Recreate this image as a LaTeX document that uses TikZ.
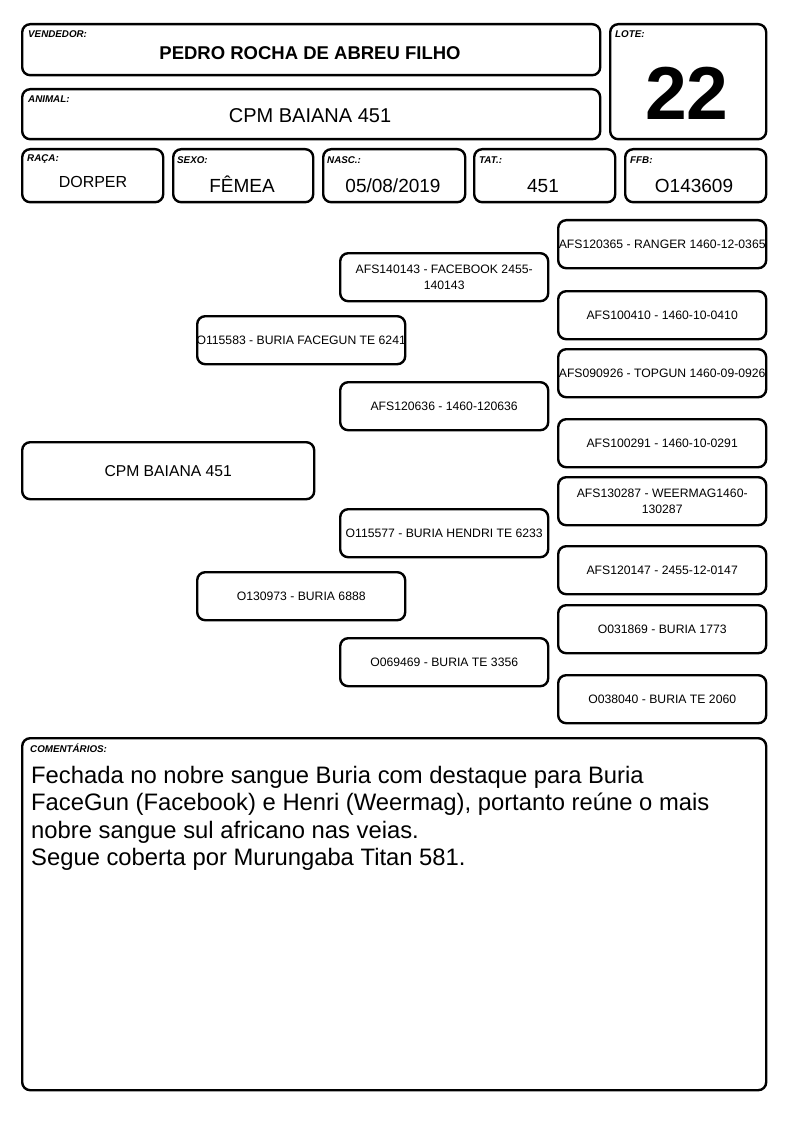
\documentclass[tikz,border=0pt]{standalone}
\usepackage{fontspec}
\setmainfont{Liberation Sans}
\newcommand{\fz}[1]{\fontsize{#1}{#1}\selectfont}
\newcommand{\nowid}[1]{\makebox[0pt][c]{#1}}
\begin{document}
\begin{tikzpicture}[x=1pt,y=-1pt,
  box/.style={draw, line width=2.4pt, rounded corners=8pt, inner sep=0pt, anchor=north west},
  lbl/.style={anchor=base west, inner sep=0pt, font=\fz{9.8}\bfseries\itshape},
  val/.style={anchor=base, inner sep=0pt},
  pbox/.style={box, minimum width=208pt, minimum height=48pt, font=\fontsize{12.2}{16}\selectfont, align=center},
]
\useasboundingbox[fill=white] (0,0) rectangle (794,1123);
% header
\node[box, minimum width=578pt, minimum height=51pt] (vend) at (21,23) {};
\node[lbl] (vendl) at (28,38) {VENDEDOR:};
\node[val, font=\fz{18.5}\bfseries] (vendv) at (310,60) {PEDRO ROCHA DE ABREU FILHO};
\node[box, minimum width=156pt, minimum height=115pt] (lote) at (609,23) {};
\node[lbl] (lotel) at (615,38) {LOTE:};
\node[val, font=\fz{75}\bfseries] (lotev) at (687,120) {22};
\node[box, minimum width=578pt, minimum height=50pt] (anim) at (21,88) {};
\node[lbl] (animl) at (28,103) {ANIMAL:};
\node[val, font=\fz{20}] (animv) at (310,123) {CPM BAIANA 451};
% row
\node[box, minimum width=141pt, minimum height=53pt] (raca) at (21,148) {};
\node[lbl] (racal) at (27,162) {RAÇA:};
\node[val, font=\fz{16}] (racav) at (93,188) {DORPER};
\node[box, minimum width=140pt, minimum height=53pt] (sexo) at (172,148) {};
\node[lbl] (sexol) at (177,164) {SEXO:};
\node[val, font=\fz{19}] (sexov) at (242,193) {FÊMEA};
\node[box, minimum width=142pt, minimum height=53pt] (nasc) at (322,148) {};
\node[lbl] (nascl) at (327,164) {NASC.:};
\node[val, font=\fz{19}] (nascv) at (393,193) {05/08/2019};
\node[box, minimum width=141pt, minimum height=53pt] (tat) at (473,148) {};
\node[lbl] (tatl) at (479,164) {TAT.:};
\node[val, font=\fz{19}] (tatv) at (543,193) {451};
\node[box, minimum width=141pt, minimum height=53pt] (ffb) at (624,148) {};
\node[lbl] (ffbl) at (630,164) {FFB:};
\node[val, font=\fz{19}] (ffbv) at (694,193) {O143609};
% pedigree
\node[box, minimum width=292pt, minimum height=57pt, font=\fz{15.7}] (root) at (21,441) {CPM BAIANA 451};
\node[pbox] (p1) at (196,315) {\nowid{O115583 - BURIA FACEGUN TE 6241}};
\node[pbox] (p2) at (196,571) {O130973 - BURIA 6888};
\node[pbox] (g1) at (339,252) {AFS140143 - FACEBOOK 2455-\\140143};
\node[pbox] (g2) at (339,381) {AFS120636 - 1460-120636};
\node[pbox] (g3) at (339,508) {\nowid{O115577 - BURIA HENDRI TE 6233}};
\node[pbox] (g4) at (339,637) {O069469 - BURIA TE 3356};
\node[pbox] (h1) at (557,219) {\nowid{AFS120365 - RANGER 1460-12-0365}};
\node[pbox] (h2) at (557,290) {AFS100410 - 1460-10-0410};
\node[pbox] (h3) at (557,348) {\nowid{AFS090926 - TOPGUN 1460-09-0926}};
\node[pbox] (h4) at (557,418) {AFS100291 - 1460-10-0291};
\node[pbox] (h5) at (557,476) {AFS130287 - WEERMAG1460-\\130287};
\node[pbox] (h6) at (557,545) {AFS120147 - 2455-12-0147};
\node[pbox] (h7) at (557,604) {O031869 - BURIA 1773};
\node[pbox] (h8) at (557,674) {O038040 - BURIA TE 2060};
% comments
\node[box, minimum width=744pt, minimum height=352pt] (com) at (21,737) {};
\node[lbl] (coml) at (30,752) {COMENTÁRIOS:};
\node[anchor=north west, inner sep=0pt, align=left, font=\fontsize{23.8}{27.4}\selectfont] (comv) at (31,766)
 {Fechada no nobre sangue Buria com destaque para Buria\\
  FaceGun (Facebook) e Henri (Weermag), portanto reúne o mais\\
  nobre sangue sul africano nas veias.\\
  Segue coberta por Murungaba Titan 581.};
\end{tikzpicture}
\end{document}
